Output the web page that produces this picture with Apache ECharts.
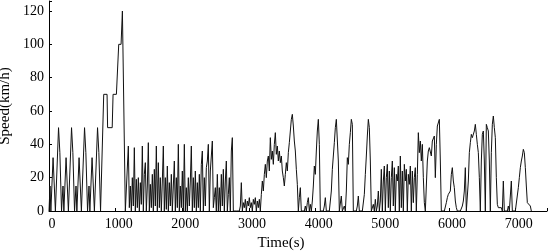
<!DOCTYPE html>
<html>
<head>
<meta charset="utf-8">
<script src="https://cdn.jsdelivr.net/npm/echarts@6/dist/echarts.min.js"></script>
<style>
  html, body { margin: 0; padding: 0; background: #fff; }
  #chart { width: 550px; height: 251px; }
</style>
</head>
<body>
<div id="chart"></div>
<script>
// NEDC part: key points (s, km/h)
const nedcTime = [
  0, 11, 15, 23, 28, 49, 61, 85, 96, 117, 143, 155, 163, 176, 188,
  206, 210, 218, 223, 244, 256, 280, 291, 312, 338, 350, 358, 371, 383,
  401, 405, 413, 418, 439, 451, 475, 486, 507, 533, 545, 553, 566, 578,
  596, 600, 608, 613, 634, 646, 670, 681, 702, 728, 740, 748, 761, 773,
  800, 821, 871, 879, 948, 961, 1011, 1046, 1081, 1101, 1111, 1145
]
const nedcSpeed = [
  0, 0, 15, 15, 0, 0, 32, 32, 0, 0, 50, 50, 35, 35, 0,
  0, 15, 15, 0, 0, 32, 32, 0, 0, 50, 50, 35, 35, 0,
  0, 15, 15, 0, 0, 32, 32, 0, 0, 50, 50, 35, 35, 0,
  0, 15, 15, 0, 0, 32, 32, 0, 0, 50, 50, 35, 35, 0,
  0, 70, 70, 50, 50, 70, 70, 100, 100, 120, 120, 0
]

// measured city driving, sampled every 15 s
const sampleStep = 15
const cityAStart = 1145
const cityA = [
  0, 0, 0, 39, 2, 15, 0, 20, 3, 38,
  0, 19, 2, 20, 0, 17, 4, 39, 0, 22,
  29, 0, 15, 41, 0, 16, 2, 22, 0, 25,
  3, 39, 0, 29, 2, 20, 0, 18, 39, 0,
  20, 1, 27, 0, 17, 3, 22, 0, 15, 30,
  0, 20, 2, 40, 0, 15, 2, 24, 0, 40,
  0, 14, 0, 20, 3, 18, 39, 0, 20, 2,
  24, 0, 17, 2, 22, 0, 28, 36, 0, 20,
  3, 26, 30, 40, 0, 24, 33, 42, 2, 8,
  14, 0, 22, 0, 14, 0, 22, 3, 25, 0,
  18, 30, 0, 10, 20, 0, 36, 44, 0, 0
]
const cityBStart = 2795
const cityB = [
  0, 0, 0, 0, 0, 3, 17, 0, 5, 2,
  7, 0, 6, 3, 8, 2, 5, 0, 7, 4,
  8, 0, 6, 2, 7, 0, 10, 18, 12, 22,
  28, 20, 30, 33, 24, 44, 31, 36, 28, 40,
  47, 34, 39, 30, 36, 29, 33, 24, 20, 15,
  22, 29, 24, 35, 41, 48, 55, 58, 51, 42,
  36, 25, 16, 0, 8, 14, 0, 0, 0, 0,
  3, 0, 5, 8, 0, 4, 0, 6, 15, 27,
  22, 36, 48, 55, 40, 0, 0, 0, 0, 3,
  8, 0, 0, 0, 0, 0, 12, 25, 33, 41,
  50, 55, 54, 30, 0
]
const cityCStart = 4370
const cityC = [
  0, 9, 0, 0, 3, 0, 12, 32, 28, 40,
  47, 55, 52, 0, 0, 0, 0, 3, 9, 0,
  0, 0, 0, 0, 10, 22, 33, 45, 55, 50,
  30, 0, 0, 4, 0, 7, 0, 3, 12, 0,
  6, 25, 0, 18, 27, 0, 20, 28, 2, 24,
  0, 20, 30, 3, 26, 0, 22, 18, 27, 0,
  33, 2, 24, 0, 28, 18, 25, 0, 22, 16,
  27, 0, 24, 5, 20, 26, 0, 22, 47, 35,
  42, 30, 40, 20, 5, 0, 15, 30, 36, 38,
  39, 33, 42, 41, 45, 20, 40, 51, 52, 55,
  30, 0
]
const cityDStart = 5900
const cityD = [
  0, 0, 0, 0, 5, 8, 10, 9, 12, 22,
  26, 18, 14, 6, 2, 0, 0, 0, 0, 0,
  3, 6, 12, 26, 0, 0, 18, 35, 41, 46,
  44, 43, 48, 52, 46, 40, 35, 20, 0, 30,
  46, 48, 30, 0, 52, 50, 48, 30, 0, 35,
  52, 57, 50, 44, 20, 4, 2, 3, 1, 2,
  0, 18, 0, 0, 0, 0, 3, 0, 0, 18,
  0, 0, 0, 0, 0, 0, 14, 20, 26, 30,
  33, 37, 35, 26, 15, 5, 4, 6, 3, 0
]

const yTicks = [0, 20, 40, 60, 80, 100, 120]

const points = nedcTime.map((t, i) => [t, nedcSpeed[i]])
const addSegment = (start, values) => {
  values.forEach((v, i) => points.push([start + i * sampleStep, v]))
}
addSegment(cityAStart, cityA)
addSegment(cityBStart, cityB)
addSegment(cityCStart, cityC)
addSegment(cityDStart, cityD)

const font = 'Liberation Serif'
const chart = echarts.init(document.getElementById('chart'))
chart.setOption({
  animation: false,
  backgroundColor: '#fff',
  grid: { left: 49, right: 3, top: 1, bottom: 40, containLabel: false, outerBoundsMode: 'none' },
  xAxis: {
    type: 'value',
    min: 0,
    max: 7470,
    interval: 1000,
    name: 'Time(s)',
    nameLocation: 'middle',
    nameGap: 22,
    nameTextStyle: { fontFamily: font, fontSize: 15, color: '#000', padding: [0, 34, 0, 0] },
    axisLine: { lineStyle: { color: '#000', width: 1 } },
    axisTick: { inside: true, length: 3, lineStyle: { color: '#000' } },
    axisLabel: {
      fontFamily: font, fontSize: 14, color: '#000', margin: 6,
      padding: [0, 0, 0, 6],
      formatter: v => (v > 7000 ? '' : v)
    },
    splitLine: { show: false }
  },
  yAxis: {
    type: 'value',
    min: 0,
    max: 126,
    interval: 20,
    name: 'Speed(km/h)',
    nameLocation: 'middle',
    nameGap: 32,
    nameRotate: 90,
    nameTextStyle: { fontFamily: font, fontSize: 15, color: '#000' },
    axisLine: { show: true, lineStyle: { color: '#000', width: 1 } },
    axisTick: { show: true, inside: true, length: 3, lineStyle: { color: '#000' } },
    axisLabel: {
      fontFamily: font, fontSize: 14, color: '#000', margin: 5,
      formatter: v => (yTicks.includes(v) ? v : '')
    },
    splitLine: { show: false }
  },
  series: [{
    type: 'line',
    data: points,
    showSymbol: false,
    lineStyle: { color: '#111', width: 1 }
  }]
})
</script>
</body>
</html>
